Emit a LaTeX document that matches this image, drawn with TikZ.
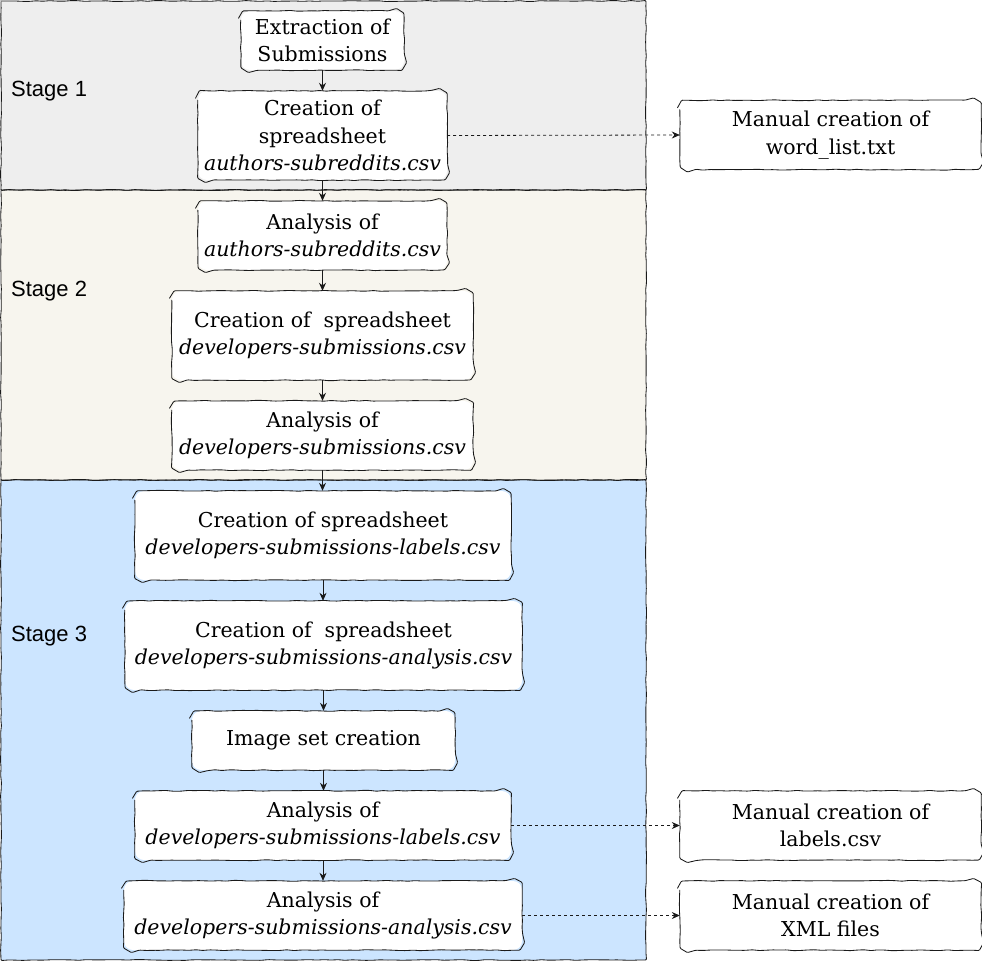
\documentclass[tikz,border=0pt]{standalone}
\usepackage{fontspec}
\setmainfont{DejaVu Serif}
\newfontfamily\labelfont{Liberation Sans}
\usetikzlibrary{arrows.meta,decorations.pathmorphing}

\definecolor{bandone}{HTML}{EEEEEE}
\definecolor{bandtwo}{HTML}{F7F5EE}
\definecolor{bandthree}{HTML}{CCE5FF}
\definecolor{inkline}{HTML}{1A1A1A}

\tikzset{
  wobble/.style={decoration={random steps, segment length=7pt, amplitude=0.45pt}},
  outline/.style={draw=inkline, line width=0.85pt, rounded corners=1pt},
  stagelabel/.style={font=\labelfont\fontsize{22}{25}\selectfont, anchor=west, inner sep=0pt},
  stepbox/.style={fill=white, rounded corners=9pt,
    inner sep=0pt, align=center, font=\fontsize{20.5}{27.5}\selectfont},
  flow/.style={-{Stealth[length=8pt,width=7pt]}, line width=0.8pt, draw=inkline},
  side/.style={flow, dash pattern=on 3pt off 3pt},
}

\begin{document}
\pgfmathsetseed{7}
\begin{tikzpicture}[x=1pt,y=-1pt]
\useasboundingbox (0,0) rectangle (982,961);

% stage bands
\fill[bandone] (1,1) rectangle (646,190);
\fill[bandtwo] (1,190) rectangle (646,480);
\fill[bandthree] (1,480) rectangle (646,960);
\draw[outline] decorate[wobble] {(1,1) rectangle (646,190)};
\draw[outline] decorate[wobble] {(1,190) rectangle (646,480)};
\draw[outline] decorate[wobble] {(1,480) rectangle (646,960)};

\node[stagelabel] (s1) at (11,91) {Stage 1};
\node[stagelabel] (s2) at (11,291) {Stage 2};
\node[stagelabel] (s3) at (11,636) {Stage 3};

% main flow
\node[stepbox, minimum width=163pt, minimum height=59pt] (extract) at (322.5,40.5)
  {Extraction of\\Submissions};
\node[stepbox, minimum width=249pt, minimum height=89pt] (authcsv) at (322.5,135.5)
  {Creation of\\spreadsheet\\\textit{authors-subreddits.csv}};
\node[stepbox, minimum width=249pt, minimum height=69pt] (authan) at (322.5,235.5)
  {Analysis of\\\textit{authors-subreddits.csv}};
\node[stepbox, minimum width=301pt, minimum height=89pt] (devcsv) at (322.5,335.5)
  {Creation of\ \ spreadsheet\\\textit{developers-submissions.csv}};
\node[stepbox, minimum width=301pt, minimum height=69pt] (devan) at (322.5,435.5)
  {Analysis of\\\textit{developers-submissions.csv}};
\node[stepbox, minimum width=376pt, minimum height=89pt] (labcsv) at (323,535.5)
  {Creation of spreadsheet\\\textit{developers-submissions-labels.csv}};
\node[stepbox, minimum width=397pt, minimum height=89pt] (anacsv) at (323.5,645.5)
  {Creation of\ \ spreadsheet\\\textit{developers-submissions-analysis.csv}};
\node[stepbox, minimum width=263pt, minimum height=59pt] (imgset) at (323.5,740.5)
  {Image set creation};
\node[stepbox, minimum width=376pt, minimum height=69pt] (laban) at (323,825.5)
  {Analysis of\\\textit{developers-submissions-labels.csv}};
\node[stepbox, minimum width=398pt, minimum height=69pt] (anaan) at (323,915.5)
  {Analysis of\\\textit{developers-submissions-analysis.csv}};

% manual side tasks
\node[stepbox, minimum width=301pt, minimum height=69pt] (words) at (830.5,135)
  {Manual creation of\\word\_list.txt};
\node[stepbox, minimum width=301pt, minimum height=69pt] (labels) at (830.5,825.5)
  {Manual creation of\\labels.csv};
\node[stepbox, minimum width=301pt, minimum height=69pt] (xml) at (830.5,915.5)
  {Manual creation of\\XML files};

% hand-drawn rounded outlines of all boxes
\foreach \n in {extract,authcsv,authan,devcsv,devan,labcsv,anacsv,imgset,laban,anaan,words,labels,xml}
  \draw[outline] decorate[wobble] {[rounded corners=9pt] (\n.north west) rectangle (\n.south east)};

% connectors
\draw[flow] (extract) -- (authcsv);
\draw[flow] (authcsv) -- (authan);
\draw[flow] (authan) -- (devcsv);
\draw[flow] (devcsv) -- (devan);
\draw[flow] (devan.south) -- (devan.south |- labcsv.north);
\draw[flow] (labcsv.south) -- (labcsv.south |- anacsv.north);
\draw[flow] (anacsv.south) -- (anacsv.south |- imgset.north);
\draw[flow] (imgset.south) -- (imgset.south |- laban.north);
\draw[flow] (laban.south) -- (laban.south |- anaan.north);

\draw[side] (authcsv.east) -- (words.west);
\draw[side] (laban.east) -- (labels.west);
\draw[side] (anaan.east) -- (xml.west);
\end{tikzpicture}
\end{document}
